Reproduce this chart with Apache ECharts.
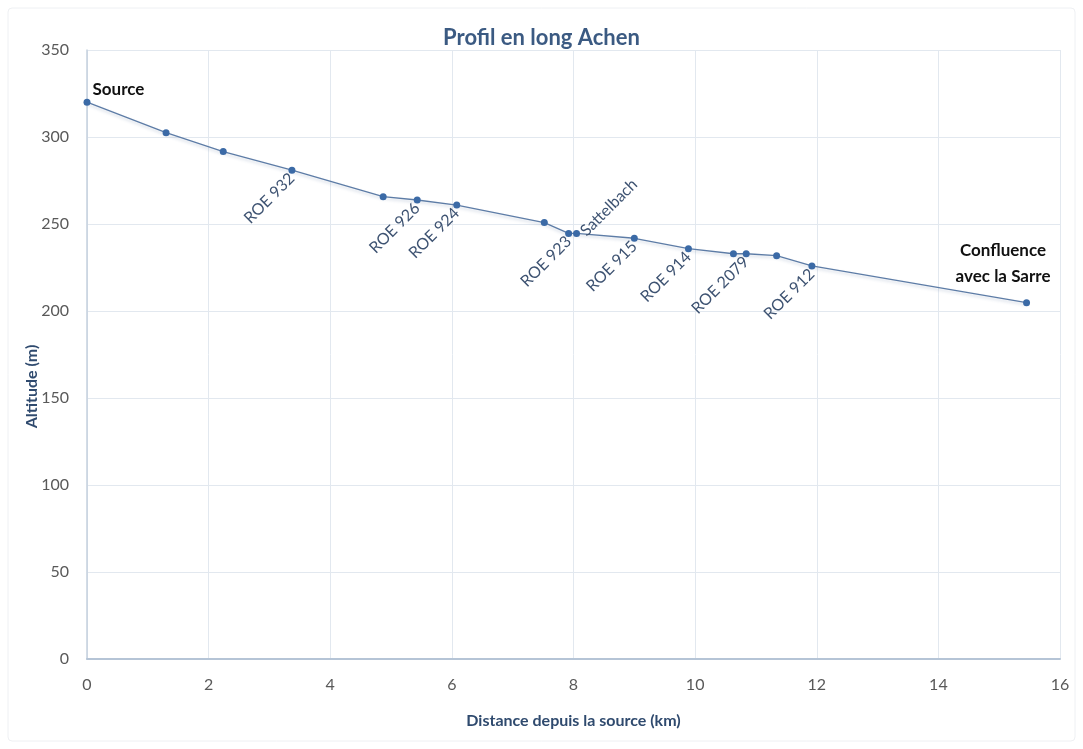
<!DOCTYPE html>
<html><head><meta charset="utf-8">
<script src="https://cdn.jsdelivr.net/npm/echarts@6/dist/echarts.min.js"></script>
<style>html,body{margin:0;padding:0;background:#fff}#c{width:1083px;height:749px}</style>
</head><body><div id="c"></div>
<script>
const distances = [0, 1.30, 2.24, 3.37, 4.87, 5.43, 6.08, 7.52, 7.92, 8.05, 9.0, 9.89, 10.63, 10.84, 11.34, 11.92, 15.45];
const altitudes = [320, 302.5, 291.6, 280.9, 265.7, 263.8, 260.9, 250.8, 244.6, 244.6, 241.8, 235.8, 232.9, 232.9, 231.8, 225.9, 204.8];
const pointLabels = ['Source', '', '', 'ROE 932', '', 'ROE 926', 'ROE 924', '', 'ROE 923', 'Sattelbach', 'ROE 915', 'ROE 914', '', 'ROE 2079', '', 'ROE 912', 'Confluence\navec la Sarre'];
const xTicks = [0, 2, 4, 6, 8, 10, 12, 14, 16];
const yTicks = [0, 50, 100, 150, 200, 250, 300, 350];

const FONT = 'Lato, "Open Sans", sans-serif';
const roeLabel = {show: true, position: 'bottom', distance: 2, rotate: 45, align: 'right', verticalAlign: 'middle',
  fontSize: 16, color: '#3E5372', fontFamily: FONT, formatter: p => pointLabels[p.dataIndex]};

const data = distances.map((d, i) => {
  const item = {value: [d, altitudes[i]]};
  const t = pointLabels[i];
  if (!t) return item;
  if (t === 'Source') {
    item.label = {show: true, position: [9, -9], align: 'left', verticalAlign: 'middle', fontSize: 17, fontWeight: 'bold', color: '#111', fontFamily: FONT, formatter: t};
  } else if (t.indexOf('Confluence') === 0) {
    item.label = {show: true, position: [-20, -36], align: 'center', verticalAlign: 'middle', fontSize: 17, lineHeight: 26, fontWeight: 'bold', color: '#111', fontFamily: FONT, formatter: t};
  } else if (t === 'Sattelbach') {
    item.label = Object.assign({}, roeLabel, {position: 'right', distance: 3, align: 'left', formatter: t});
  } else {
    item.label = Object.assign({}, roeLabel, {formatter: t});
  }
  return item;
});

const chart = echarts.init(document.getElementById('c'));
chart.setOption({
  backgroundColor: '#fff',
  animation: false,
  title: {text: 'Profil en long Achen', left: 'center', top: 22, textStyle: {fontSize: 22, fontWeight: 'bold', color: '#3B5A82', fontFamily: FONT}},
  graphic: [{type: 'rect', shape: {x: 8, y: 8, width: 1067, height: 733, r: 4}, style: {fill: 'none', stroke: '#EEF0F3', lineWidth: 1}, silent: true}],
  grid: {left: 87, right: 23, top: 50, bottom: 90},
  xAxis: {
    type: 'value', min: 0, max: 16, interval: 2,
    name: 'Distance depuis la source (km)', nameLocation: 'middle', nameGap: 54,
    nameTextStyle: {fontSize: 16, fontWeight: 'bold', color: '#2F4A6E', fontFamily: FONT},
    axisLine: {show: true, lineStyle: {color: '#B5C4D6', width: 2}},
    axisTick: {show: false},
    axisLabel: {fontSize: 16, color: '#595959', margin: 18, fontFamily: FONT, formatter: v => xTicks.includes(v) ? String(v) : ''},
    splitLine: {show: true, lineStyle: {color: '#E2E8EF', width: 1}}
  },
  yAxis: {
    type: 'value', min: 0, max: 350, interval: 50,
    name: 'Altitude (m)', nameLocation: 'middle', nameGap: 47, nameMoveOverlap: false,
    nameTextStyle: {fontSize: 16, fontWeight: 'bold', color: '#2F4A6E', fontFamily: FONT, padding: [0, 64, 0, 0]},
    axisLine: {show: true, lineStyle: {color: '#C5D1DE', width: 1.5}},
    axisTick: {show: false},
    axisLabel: {fontSize: 16, color: '#595959', margin: 18, fontFamily: FONT, formatter: v => yTicks.includes(v) ? String(v) : ''},
    splitLine: {show: true, lineStyle: {color: '#E2E8EF', width: 1}}
  },
  series: [{
    type: 'line', data: data,
    symbol: 'circle', symbolSize: 7,
    itemStyle: {color: '#3B6AA6'},
    lineStyle: {color: '#5D7CA6', width: 1.3, shadowColor: 'rgba(60,90,140,0.25)', shadowBlur: 3, shadowOffsetY: 2},
    labelLayout: {hideOverlap: false}
  }]
});
</script></body></html>
